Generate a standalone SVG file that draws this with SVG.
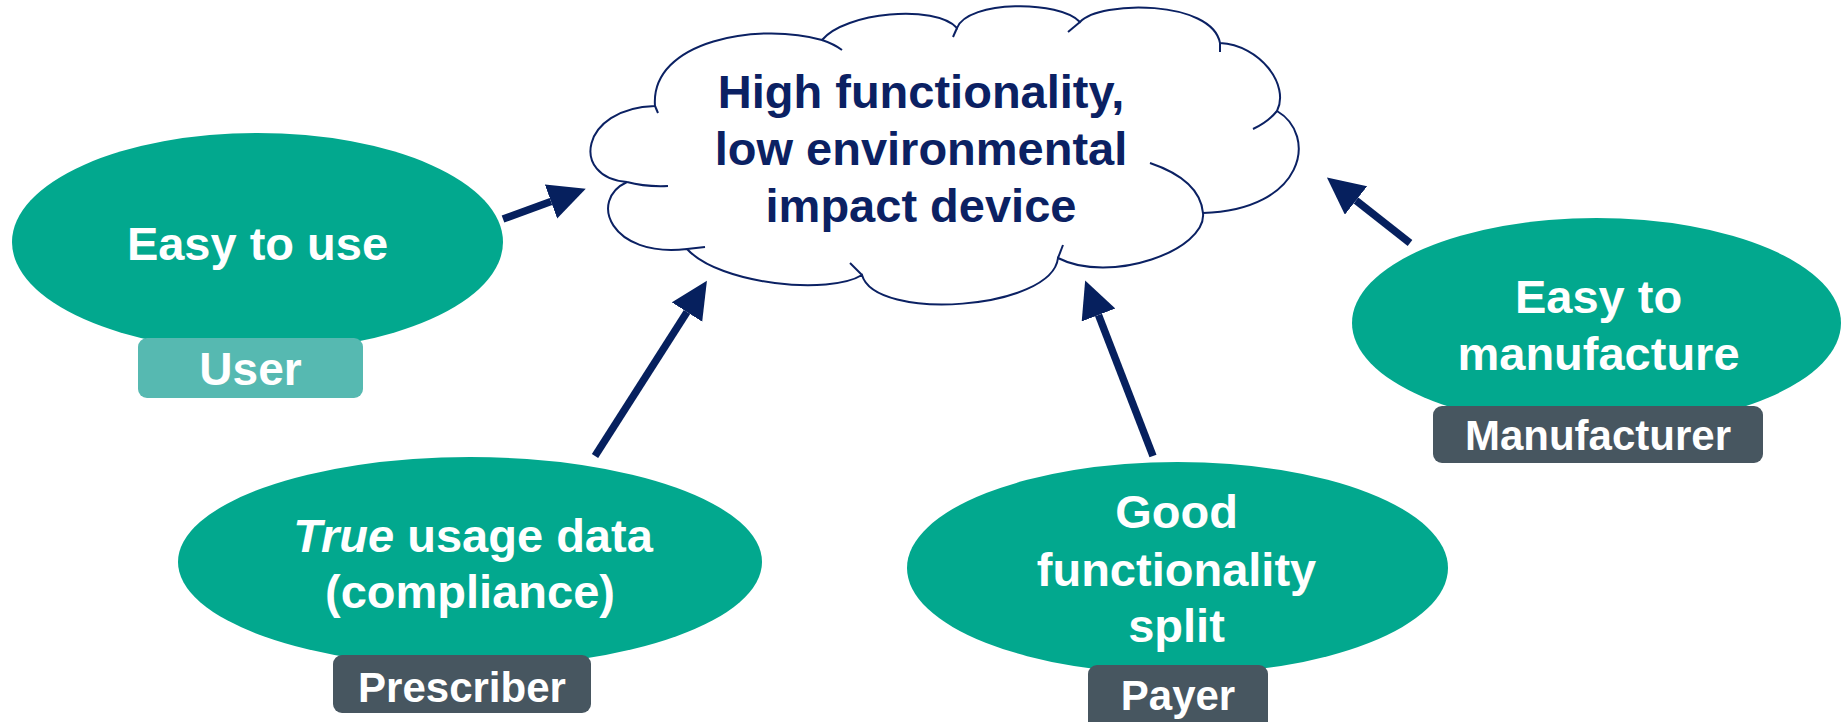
<svg xmlns="http://www.w3.org/2000/svg" width="1841" height="722" viewBox="0 0 1841 722">
<defs>
<style>
.oval{fill:#02A88E;}
.box{fill:#475660;}
.ubox{fill:#56B9B1;}
.wt{font-family:"Liberation Sans",Arial,sans-serif;font-weight:bold;fill:#FFFFFF;text-anchor:middle;}
.nt{font-family:"Liberation Sans",Arial,sans-serif;font-weight:bold;fill:#0B2163;text-anchor:middle;font-size:47px;}
.cl{fill:none;stroke:#0B2163;stroke-width:2;}
.arr{stroke:#06205E;stroke-width:7.5;fill:none;marker-end:url(#ah);}
</style>
<marker id="ah" markerUnits="userSpaceOnUse" markerWidth="40" markerHeight="38" refX="0" refY="18" orient="auto" viewBox="0 0 40 38">
<path d="M0,0 L37,18 L0,36 Z" fill="#06205E"/>
</marker>
</defs>
<rect width="1841" height="722" fill="#FFFFFF"/>

<g id="cloud">
<path fill="#FFFFFF" stroke="#0B2163" stroke-width="2" d="M655,106 C650,40 760,22 822,40 C845,12 935,4 957,28 C968,0 1060,0 1080,22 C1100,0 1212,0 1220,43 C1260,45 1290,85 1277,111 C1318,135 1305,210 1203,213 C1207,250 1110,285 1058,258 C1052,310 875,322 862,275 C830,295 720,285 687,249 C610,258 588,200 627,182 C570,178 580,108 655,106 Z"/>
<path class="cl" d="M655,106 L658,113"/>
<path class="cl" d="M822,40 Q834,44 842,50"/>
<path class="cl" d="M957,28 L953,37"/>
<path class="cl" d="M1080,22 L1068,32"/>
<path class="cl" d="M1220,43 L1220,52"/>
<path class="cl" d="M1277,111 Q1268,122 1253,129"/>
<path class="cl" d="M1203,213 Q1200,180 1150,163"/>
<path class="cl" d="M1058,258 L1063,245"/>
<path class="cl" d="M862,275 L850,263"/>
<path class="cl" d="M687,249 L705,247"/>
<path class="cl" d="M627,182 Q645,187 668,186"/>
<text class="nt" x="921" y="108">High functionality,</text>
<text class="nt" x="921" y="165">low environmental</text>
<text class="nt" x="921" y="222">impact device</text>
</g>

<g id="user">
<ellipse class="oval" cx="257.5" cy="242" rx="245.5" ry="109"/>
<text class="wt" x="257.5" y="260" font-size="47">Easy to use</text>
<rect class="ubox" x="138" y="338" width="225" height="60" rx="9"/>
<text class="wt" x="250.5" y="385" font-size="46">User</text>
</g>

<g id="prescriber">
<ellipse class="oval" cx="470" cy="562" rx="292" ry="105"/>
<text class="wt" x="473" y="552" font-size="47"><tspan font-style="italic">True</tspan> usage data</text>
<text class="wt" x="470" y="608" font-size="47">(compliance)</text>
<rect class="box" x="333" y="655" width="258" height="58" rx="9"/>
<text class="wt" x="462" y="702" font-size="42">Prescriber</text>
</g>

<g id="payer">
<ellipse class="oval" cx="1177.5" cy="568" rx="270.5" ry="106"/>
<text class="wt" x="1176.5" y="528" font-size="47">Good</text>
<text class="wt" x="1176.5" y="586" font-size="47">functionality</text>
<text class="wt" x="1176.5" y="642" font-size="47">split</text>
<rect class="box" x="1088" y="665" width="180" height="66" rx="9"/>
<text class="wt" x="1178" y="710" font-size="42">Payer</text>
</g>

<g id="manufacturer">
<ellipse class="oval" cx="1596.5" cy="323" rx="244.5" ry="105"/>
<text class="wt" x="1598.5" y="313" font-size="47">Easy to</text>
<text class="wt" x="1598.5" y="370" font-size="47">manufacture</text>
<rect class="box" x="1433" y="406" width="330" height="57" rx="9"/>
<text class="wt" x="1598" y="450" font-size="42">Manufacturer</text>
</g>

<g id="connectors">
<line class="arr" x1="503" y1="219" x2="551" y2="201.5"/>
<line class="arr" x1="595" y1="456" x2="687" y2="312"/>
<line class="arr" x1="1153" y1="456" x2="1098.5" y2="315"/>
<line class="arr" x1="1410" y1="243" x2="1356" y2="200.5"/>
</g>
</svg>
